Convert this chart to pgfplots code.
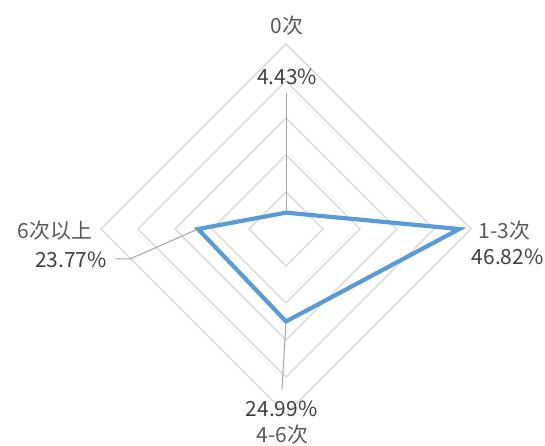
\documentclass[border=0pt]{standalone}
\usepackage{pgfplots}
\pgfplotsset{compat=1.18}
\usepackage{fontspec}
\setmainfont{Noto Sans CJK SC}
\definecolor{serblue}{HTML}{5B9BD5}
\definecolor{gridgray}{HTML}{D9D9D9}
\definecolor{leadgray}{HTML}{A6A6A6}
\definecolor{cattext}{HTML}{595959}
\definecolor{valtext}{HTML}{404040}
\begin{document}
\begin{tikzpicture}
\begin{axis}[
  name=ax,
  x=3.7bp, y=3.7bp,
  xmin=-77.3, xmax=70.0, ymin=-58.6, ymax=61.9,
  hide axis, clip=false,
  every axis plot/.append style={mark=none},
]
% grid diamonds
\foreach \r in {10,20,30,40,50}{
  \edef\tmp{\noexpand\addplot[color=gridgray, line width=1.2bp, line join=miter] coordinates {(0,\r) (\r,0) (0,-\r) (-\r,0)} -- cycle;}
  \tmp
}
% leader lines
\addplot[color=leadgray, line width=1bp] coordinates {(0,4.43) (0,36.8)};
\addplot[color=leadgray, line width=1bp] coordinates {(0,-24.99) (-1.1,-43.5)};
\addplot[color=leadgray, line width=1bp] coordinates {(-23.77,0) (-42.2,-8.1) (-46.2,-8.1)};
% data series
\addplot[color=serblue, line width=4.2bp, line join=miter, miter limit=4] coordinates {(0,4.43) (46.82,0) (0,-24.99) (-23.77,0)} -- cycle;
% category labels
\node[text=cattext, font=\fontsize{21}{24}\selectfont] at (axis cs:0.3,55.1) {0次};
\node[text=cattext, font=\fontsize{21}{24}\selectfont, anchor=west, inner xsep=0pt] at (axis cs:52.0,-0.3) {1-3次};
\node[text=cattext, font=\fontsize{21}{24}\selectfont] at (axis cs:-1.0,-55.5) {4-6次};
\node[text=cattext, font=\fontsize{21}{24}\selectfont, anchor=east, inner xsep=0pt] at (axis cs:-52.4,-0.3) {6次以上};
% value labels
\node[text=valtext, font=\fontsize{21}{24}\selectfont] at (axis cs:0.3,41.1) {4.43\%};
\node[text=valtext, font=\fontsize{21}{24}\selectfont, anchor=east, inner xsep=0pt] at (axis cs:69.6,-7.6) {46.82\%};
\node[text=valtext, font=\fontsize{21}{24}\selectfont] at (axis cs:-1.2,-48.6) {24.99\%};
\node[text=valtext, font=\fontsize{21}{24}\selectfont, anchor=east, inner xsep=0pt] at (axis cs:-48.4,-8.4) {23.77\%};
\end{axis}
\pgfresetboundingbox
\path (ax.south west) rectangle (ax.north east);
\end{tikzpicture}
\end{document}
